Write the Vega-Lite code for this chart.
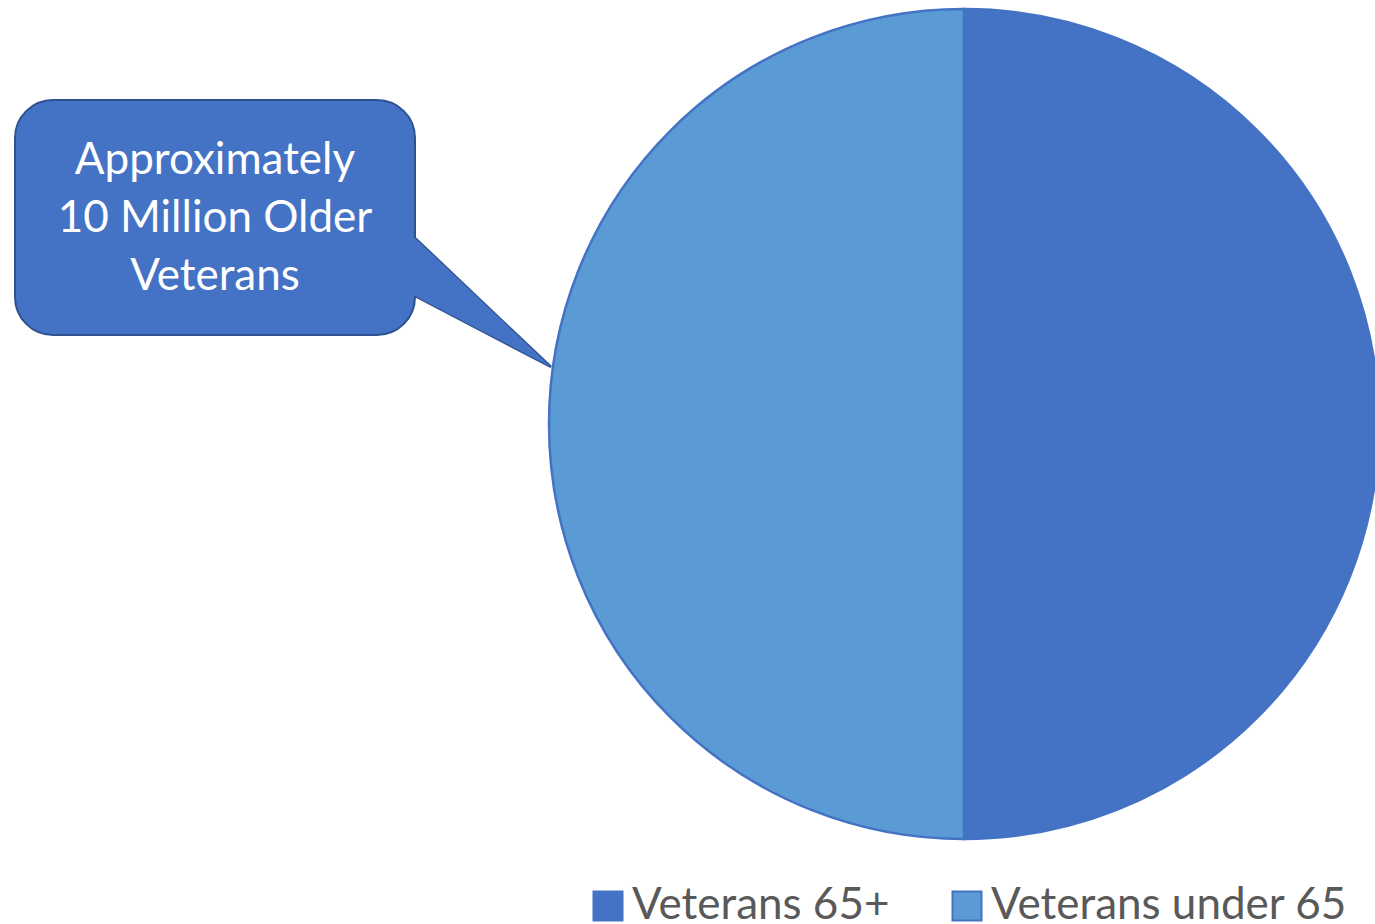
{
  "$schema": "https://vega.github.io/schema/vega-lite/v6.json",
  "width": 1375,
  "height": 924,
  "padding": 0,
  "autosize": {"type": "none"},
  "background": "white",
  "config": {"view": {"stroke": null}},
  "datasets": {
    "pie": [
      {"group": "Veterans 65+", "value": 10},
      {"group": "Veterans under 65", "value": 10}
    ],
    "callout": [{"label": "Approximately\n10 Million Older\nVeterans"}],
    "pointer": [
      {"px": 412, "top": 238, "bottom": 296},
      {"px": 415, "top": 238, "bottom": 296},
      {"px": 551, "top": 367, "bottom": 367}
    ]
  },
  "layer": [
    {
      "data": {"name": "pie"},
      "mark": {"type": "arc", "radius": 415, "stroke": "#4472C4", "strokeWidth": 2.5},
      "encoding": {
        "theta": {"field": "value", "type": "quantitative", "stack": true},
        "order": {"field": "group", "type": "nominal", "sort": "ascending"},
        "color": {
          "field": "group",
          "type": "nominal",
          "scale": {"domain": ["Veterans 65+", "Veterans under 65"], "range": ["#4472C4", "#5B9BD5"]},
          "legend": {
            "orient": "none",
            "legendX": 586,
            "legendY": 884,
            "direction": "horizontal",
            "columns": 2,
            "title": null,
            "padding": 0,
            "symbolType": "square",
            "symbolSize": 841,
            "symbolStrokeColor": "#4472C4",
            "symbolStrokeWidth": 2,
            "labelFont": "Lato",
            "labelFontSize": 44,
            "labelColor": "#595959",
            "labelOffset": 2,
            "columnPadding": 55,
            "labelLimit": 600
          }
        },
        "x": {"datum": 964, "type": "quantitative", "scale": {"domain": [0, 1375], "nice": false, "zero": false}, "axis": null},
        "y": {"datum": 424, "type": "quantitative", "scale": {"domain": [0, 924], "nice": false, "zero": false, "reverse": true}, "axis": null}
      }
    },
    {
      "data": {"name": "pointer"},
      "mark": {"type": "area", "fill": "#4472C4", "stroke": "#2F528F", "strokeWidth": 2.5, "orient": "vertical"},
      "encoding": {
        "x": {"field": "px", "type": "quantitative"},
        "y": {"field": "top", "type": "quantitative"},
        "y2": {"field": "bottom"}
      }
    },
    {
      "data": {"name": "callout"},
      "mark": {"type": "rect", "fill": "#4472C4", "stroke": "#2F528F", "strokeWidth": 2, "cornerRadius": 38},
      "encoding": {
        "x": {"datum": 15, "type": "quantitative"},
        "x2": {"datum": 415},
        "y": {"datum": 100, "type": "quantitative"},
        "y2": {"datum": 335}
      }
    },
    {
      "data": {"name": "pointer"},
      "mark": {"type": "area", "fill": "#4472C4", "orient": "vertical"},
      "encoding": {
        "x": {"field": "px", "type": "quantitative"},
        "y": {"field": "top", "type": "quantitative"},
        "y2": {"field": "bottom"}
      }
    },
    {
      "data": {"name": "callout"},
      "mark": {"type": "text", "fill": "white", "font": "Lato", "fontSize": 44, "align": "center", "baseline": "middle", "lineBreak": "\n", "lineHeight": 58},
      "encoding": {
        "x": {"datum": 215, "type": "quantitative"},
        "y": {"datum": 161, "type": "quantitative"},
        "text": {"field": "label"}
      }
    }
  ]
}
